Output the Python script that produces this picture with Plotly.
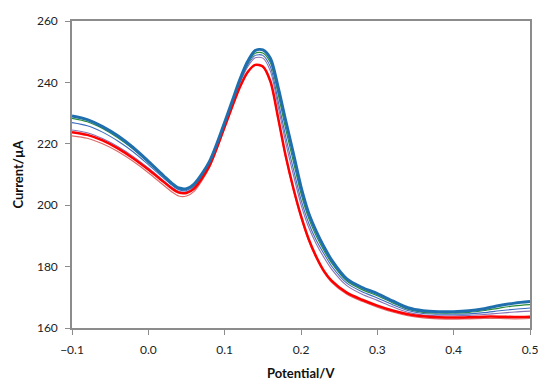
import plotly.graph_objects as go

potential = [-0.1, -0.08, -0.06, -0.04, -0.02, 0.0, 0.02, 0.03, 0.04, 0.05, 0.06, 0.08, 0.1,
             0.11, 0.12, 0.13, 0.14, 0.15, 0.16, 0.17, 0.18, 0.19, 0.2, 0.21, 0.22, 0.23, 0.24,
             0.26, 0.28, 0.3, 0.32, 0.34, 0.36, 0.38, 0.4, 0.42, 0.44, 0.46, 0.48, 0.5]

blue_thick = [229.1, 227.9, 225.6, 222.6, 218.8, 214.3, 209.6, 207.3, 205.6, 205.4, 206.9, 214.2, 227.0,
              234.0, 241.0, 246.8, 250.4, 250.6, 247.8, 238.5, 227.5, 216.9, 206.0, 197.5, 191.5, 186.5, 182.2,
              176.0, 173.2, 171.2, 168.8, 166.6, 165.6, 165.3, 165.3, 165.6, 166.3, 167.3, 168.1, 168.6]
green = [228.3, 227.2, 225.0, 222.0, 218.3, 213.9, 209.3, 207.1, 205.4, 205.2, 206.6, 214.0, 227.0,
         233.8, 240.6, 246.2, 249.5, 249.6, 246.4, 236.3, 224.8, 214.2, 203.8, 195.8, 190.0, 185.3, 181.2,
         175.3, 172.5, 170.5, 168.2, 166.1, 165.1, 164.9, 164.9, 165.1, 165.7, 166.5, 167.2, 167.6]
blue_thin = [226.9, 225.9, 223.8, 220.9, 217.4, 213.2, 208.8, 206.7, 205.0, 204.8, 206.2, 213.7, 226.8,
             233.6, 240.2, 245.6, 248.8, 248.8, 245.0, 234.0, 222.3, 211.8, 201.8, 194.2, 188.6, 184.2, 180.2,
             174.6, 171.8, 169.8, 167.6, 165.7, 164.7, 164.5, 164.5, 164.6, 165.0, 165.6, 166.1, 166.5]
purple = [224.5, 223.6, 221.7, 219.1, 215.9, 212.1, 208.0, 206.0, 204.5, 204.4, 205.9, 213.5, 226.5,
          233.3, 239.8, 245.0, 248.0, 247.9, 243.6, 232.2, 220.4, 209.9, 200.2, 192.8, 187.4, 183.0, 179.2,
          173.8, 171.0, 169.0, 166.9, 165.1, 164.2, 164.0, 164.0, 164.1, 164.4, 164.8, 165.2, 165.5]
red_thick = [223.8, 222.9, 221.1, 218.5, 215.3, 211.6, 207.6, 205.6, 204.1, 204.0, 205.4, 212.8, 225.5,
             232.2, 238.5, 243.3, 245.7, 245.2, 240.3, 228.5, 216.0, 205.5, 196.5, 189.0, 183.2, 178.6, 175.4,
             171.5, 169.2, 167.3, 165.7, 164.5, 163.8, 163.5, 163.4, 163.5, 163.7, 163.7, 163.6, 163.7]
red_thin = [222.6, 221.8, 220.0, 217.5, 214.3, 210.6, 206.5, 204.5, 203.0, 203.0, 204.5, 212.2, 225.2,
            232.0, 238.3, 243.2, 245.6, 245.0, 240.0, 228.0, 215.5, 205.0, 196.0, 188.5, 182.7, 178.1, 174.9,
            171.0, 168.7, 166.8, 165.2, 164.0, 163.3, 163.0, 162.9, 163.0, 163.1, 163.1, 163.0, 163.1]

x_ticks = [-0.1, 0.0, 0.1, 0.2, 0.3, 0.4, 0.5]
y_ticks = [160, 180, 200, 220, 240, 260]

series = [
    (red_thin, "#e06a6a", 1.2),
    (purple, "#8a72b4", 1.1),
    (blue_thin, "#3c6cc0", 1.1),
    (green, "#2a8a3a", 1.2),
    (red_thick, "#ff0000", 2.5),
    (blue_thick, "#1f6fae", 3.0),
]

fig = go.Figure()
for ys, color, w in series:
    fig.add_trace(go.Scatter(x=potential, y=ys, mode="lines",
                             line=dict(color=color, width=w, shape="spline", smoothing=0.8),
                             showlegend=False, hoverinfo="skip"))

font_family = "Lato, Liberation Sans, sans-serif"
axis_font = dict(family=font_family, size=12, color="#222222")
fig.update_layout(
    width=540, height=381,
    margin=dict(l=72, r=10, t=21, b=53, autoexpand=False),
    paper_bgcolor="white", plot_bgcolor="white",
    font=axis_font,
    xaxis=dict(range=[-0.1, 0.5], tickvals=x_ticks, tickformat=".1f", automargin=False,
               showgrid=False, zeroline=False, showline=True, linecolor="#8c8c8c", linewidth=1.5,
               mirror=True, ticks="outside", ticklen=5, tickcolor="#8c8c8c", tickfont=axis_font,
               ticklabelstandoff=5),
    yaxis=dict(range=[160, 260], tickvals=y_ticks, automargin=False,
               showgrid=False, zeroline=False, showline=True, linecolor="#8c8c8c", linewidth=1.5,
               mirror=True, ticks="outside", ticklen=5, tickcolor="#8c8c8c", tickfont=axis_font,
               ticklabelstandoff=5),
    annotations=[
        dict(text="<b>Potential/V</b>", xref="paper", yref="paper", x=0.5, y=-0.1466,
             xanchor="center", yanchor="middle", showarrow=False,
             font=dict(family=font_family, size=13, color="#111111")),
        dict(text="<b>Current/µA</b>", xref="paper", yref="paper", x=-0.12, y=0.5,
             xanchor="center", yanchor="middle", textangle=-90, showarrow=False,
             font=dict(family=font_family, size=13, color="#111111")),
    ],
)

fig.write_html("out.html", config={"displayModeBar": False},
               post_script="document.body.style.margin='0';document.body.style.overflow='hidden';")
